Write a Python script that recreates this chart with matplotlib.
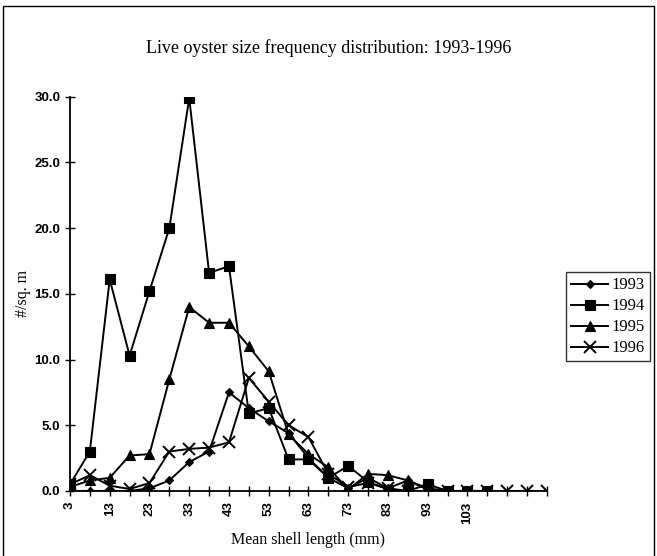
import numpy as np
import matplotlib
matplotlib.use("Agg")
import matplotlib.pyplot as plt
from matplotlib.patches import Rectangle

# Mean shell length classes (mm)
sizes = [3, 8, 13, 18, 23, 28, 33, 38, 43, 48, 53, 58, 63,
         68, 73, 78, 83, 88, 93, 98, 103, 108, 113, 118, 123]

# #/sq. m per size class
y1993 = [0.0, 0.0, 0.0, 0.0, 0.2, 0.8, 2.2, 3.0, 7.5, 6.3, 5.3, 4.4, 2.5,
         1.0, 0.2, 1.0, 0.2, 0.8, 0.1, 0.0, 0.0, 0.0]
y1994 = [0.5, 3.0, 16.1, 10.3, 15.2, 20.0, 29.9, 16.6, 17.1, 5.9, 6.3, 2.4, 2.4,
         1.0, 1.9, 0.7, 0.1, 0.0, 0.5, 0.0, 0.0, 0.0]
y1995 = [0.3, 0.8, 1.0, 2.7, 2.8, 8.5, 14.0, 12.8, 12.8, 11.0, 9.1, 4.3, 2.8,
         1.8, 0.1, 1.3, 1.2, 0.8, 0.2, 0.0, 0.0, 0.0]
y1996 = [0.5, 1.2, 0.4, 0.15, 0.6, 3.0, 3.2, 3.3, 3.7, 8.6, 6.8, 5.0, 4.1,
         1.3, 0.3, 0.6, 0.2, 0.0, 0.0, 0.0, 0.0, 0.0, 0.0, 0.0, 0.0]

years = ["1993", "1994", "1995", "1996"]
series = [y1993, y1994, y1995, y1996]
markers = ["D", "s", "^", "x"]
msizes = [4.5, 6.5, 6.5, 8]

SERIF = "Liberation Serif"
SANS = "Liberation Sans"

fig = plt.figure(figsize=(6.57, 5.56), dpi=100)
ax = fig.add_axes([0.1065, 0.117, 0.726, 0.709])

pos = np.arange(len(sizes))
for vals, mk, ms, yr in zip(series, markers, msizes, years):
    ax.plot(pos[:len(vals)], vals, color="black", lw=1.4, marker=mk,
            markersize=ms, markeredgewidth=1.4 if mk == "x" else 0.8,
            markerfacecolor="black", markeredgecolor="black", label=yr)

ax.set_xlim(0, len(sizes) - 1)
ax.set_ylim(0, 30)

ax.set_xticks(pos)
ax.set_xticklabels([str(s) if i % 2 == 0 and s <= 103 else "" for i, s in enumerate(sizes)],
                   rotation=90, fontsize=9.5, fontfamily=SANS, fontweight="bold")
ax.set_yticks(np.arange(0, 31, 5))
ax.set_yticklabels([f"{v:.1f}" for v in np.arange(0, 31, 5)],
                   fontsize=9.5, fontfamily=SANS, fontweight="bold")
ax.tick_params(axis="both", direction="inout", length=7, width=1.0, colors="black")
ax.tick_params(axis="x", pad=4)

for side in ["top", "right"]:
    ax.spines[side].set_visible(False)
for side in ["left", "bottom"]:
    ax.spines[side].set_linewidth(1.3)

ax.set_xlabel("Mean shell length (mm)", fontsize=11.5, fontfamily=SERIF, labelpad=6)
ax.set_ylabel("#/sq. m", fontsize=11.5, fontfamily=SERIF, labelpad=2)

fig.text(0.5, 0.913, "Live oyster size frequency distribution: 1993-1996",
         ha="center", va="center", fontsize=13, fontfamily=SERIF)

leg = fig.legend(loc="upper left", bbox_to_anchor=(0.862, 0.51), frameon=True,
                 fancybox=False, edgecolor="black", handlelength=2.2,
                 handletextpad=0.2, borderpad=0.3, labelspacing=0.3,
                 borderaxespad=0, prop={"family": SERIF, "size": 12})
leg.get_frame().set_linewidth(1.0)

# outer chart border
fig.patches.append(Rectangle((0.005, -0.01), 0.99, 1.0, transform=fig.transFigure,
                             fill=False, edgecolor="black", lw=1.0))

fig.savefig("out.png", dpi=100)
